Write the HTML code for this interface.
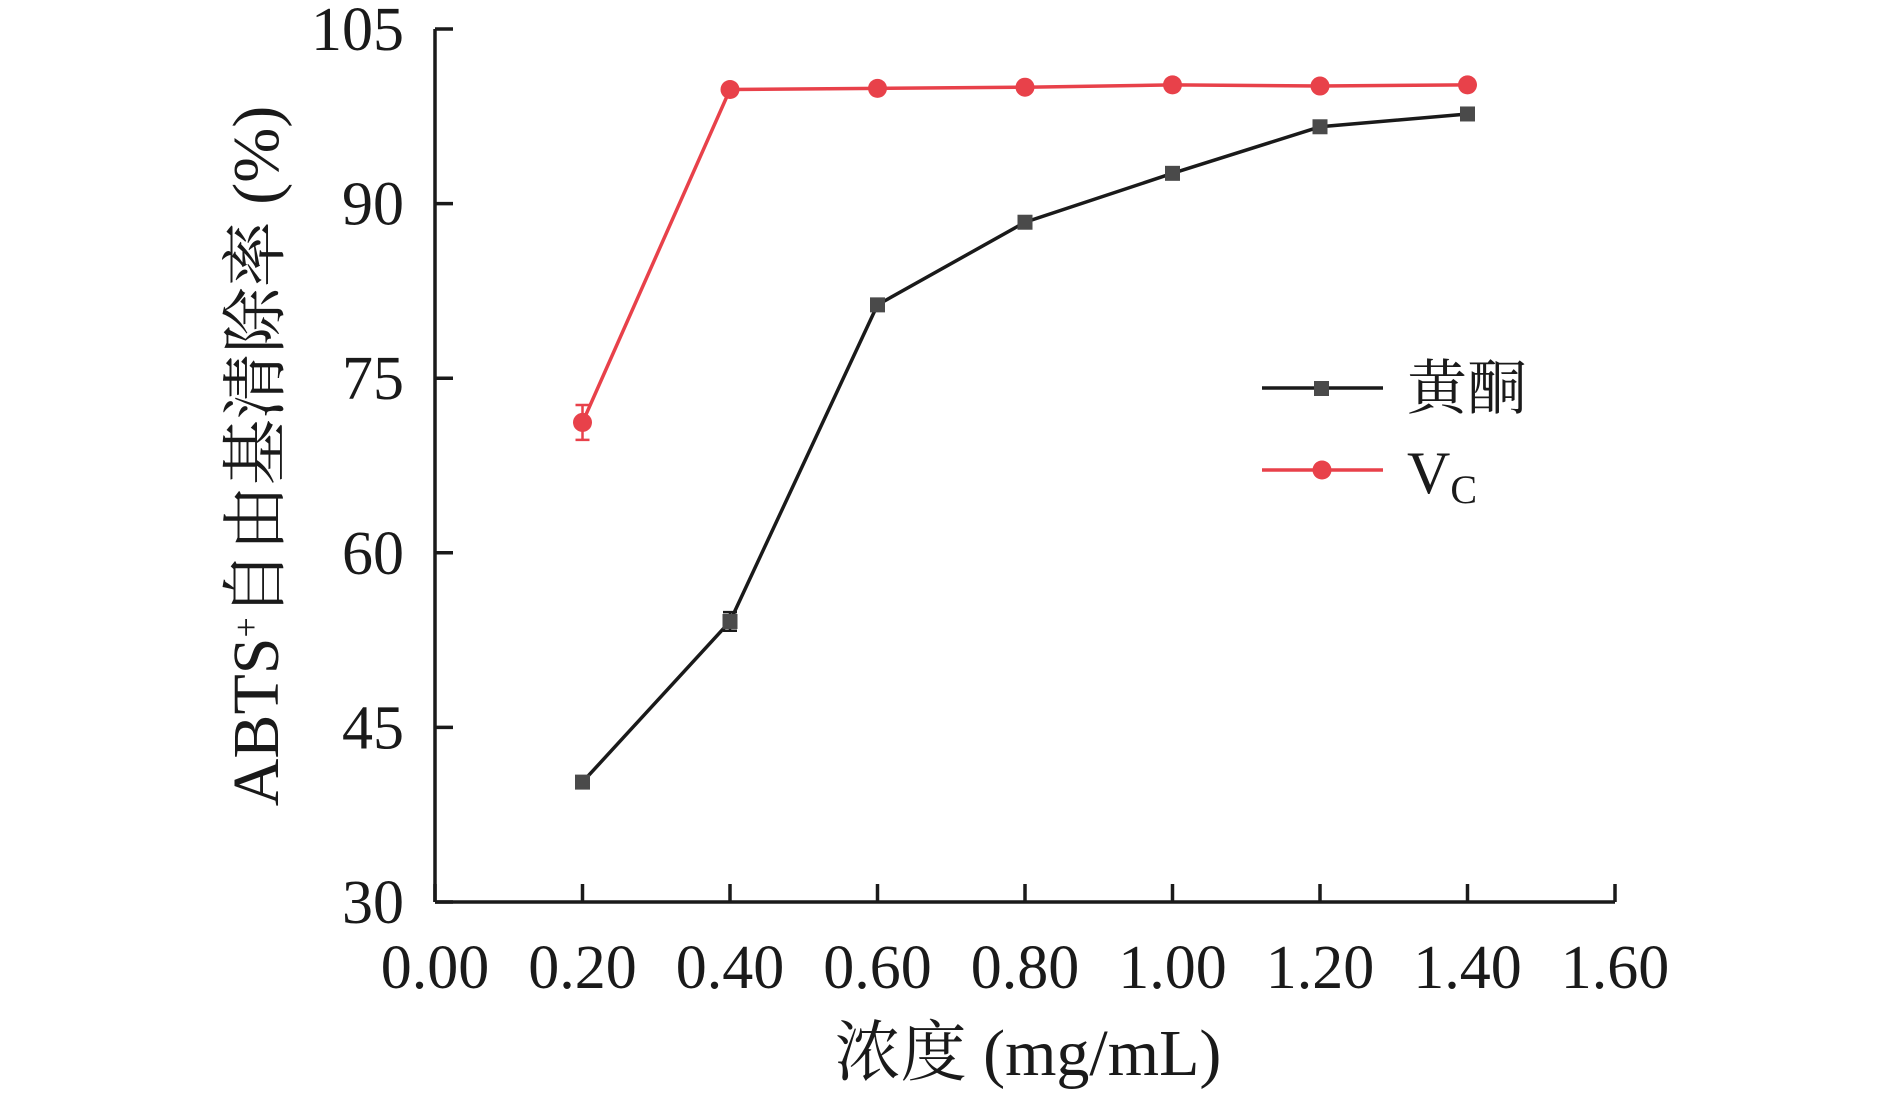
<!DOCTYPE html>
<html><head><meta charset="utf-8"><style>
html,body{margin:0;padding:0;background:#fff;}
svg text{font-family:"Liberation Serif","Noto Serif CJK SC",serif;fill:#1a1a1a;}
</style></head><body>
<svg id="chart" width="1890" height="1099" viewBox="0 0 1890 1099" xmlns="http://www.w3.org/2000/svg">
<g id="axes"></g>
<g id="series"></g>
<text transform="translate(278,456) rotate(-90)" text-anchor="middle" font-size="66">ABTS<tspan baseline-shift="super" font-size="36">+</tspan>自由基清除率 (%)</text>
<text x="1028" y="1075" text-anchor="middle" font-size="66">浓度 (mg/mL)</text>
<g>
<line x1="1262" y1="388" x2="1383" y2="388" stroke="#1a1a1a" stroke-width="3.5"/>
<rect x="1314" y="381" width="15" height="15" fill="#4a4a4a"/>
<text x="1407" y="409" font-size="60">黄酮</text>
<line x1="1262" y1="470" x2="1383" y2="470" stroke="#e8414a" stroke-width="3.5"/>
<circle cx="1322" cy="470" r="9.5" fill="#e8414a"/>
<text x="1407" y="493" font-size="60">V<tspan font-size="40" dy="10">C</tspan></text>
</g>
</svg>
<script>
const categories=[0.2,0.4,0.6,0.8,1.0,1.2,1.4];
const flavonoidValues=[40.3,54.1,81.3,88.4,92.6,96.6,97.7];
const flavonoidErrors=[0.4,0.8,0.4,0.3,0.4,0.3,0.3];
const vcValues=[71.2,99.8,99.9,100.0,100.2,100.1,100.2];
const vcErrors=[1.5,0.3,0.2,0.2,0.2,0.2,0.2];
const xTicks=["0.00","0.20","0.40","0.60","0.80","1.00","1.20","1.40","1.60"];
const yTicks=[30,45,60,75,90,105];
const NS="http://www.w3.org/2000/svg";
const X0=435,X1=1615,Y0=902,Y1=29;
function xs(v){return X0+(v-0)/(1.6)*(X1-X0);}
function ys(v){return Y0-(v-30)/(105-30)*(Y0-Y1);}
function mk(t,a,p){const e=document.createElementNS(NS,t);for(const k in a)e.setAttribute(k,a[k]);p.appendChild(e);return e;}
const ax=document.getElementById('axes');
let l=mk('line',{x1:X0,y1:Y0,x2:X1,y2:Y0,stroke:'#1a1a1a','stroke-width':3.5},ax);


l=mk('line',{x1:X0,y1:Y0,x2:X0,y2:Y1,stroke:'#1a1a1a','stroke-width':3.5},ax);


xTicks.forEach(t=>{const x=xs(parseFloat(t));
 const tk=mk('line',{x1:x,y1:Y0,x2:x,y2:Y0-18,stroke:'#1a1a1a','stroke-width':3.5},ax);
 
 
 const tx=mk('text',{x:x,y:988,'text-anchor':'middle','font-size':62},ax);tx.textContent=t;
 
 
});
yTicks.forEach(t=>{const y=ys(t);
 const tk=mk('line',{x1:X0,y1:y,x2:X0+18,y2:y,stroke:'#1a1a1a','stroke-width':3.5},ax);
 
 
 const tx=mk('text',{x:404,y:y+21,'text-anchor':'end','font-size':62},ax);tx.textContent=t;
 
 
});
const sg=document.getElementById('series');
function drawSeries(vals,errs,color,shape,name){
 const pts=categories.map((c,i)=>xs(c)+','+ys(vals[i])).join(' ');
 const pl=mk('polyline',{points:pts,fill:'none',stroke:color,'stroke-width':3.5},sg);
 
 
 categories.forEach((c,i)=>{const x=xs(c),y=ys(vals[i]),eh=ys(vals[i]-errs[i]),el=ys(vals[i]+errs[i]);
  const e=mk('path',{d:`M${x},${eh}V${el}M${x-7},${eh}H${x+7}M${x-7},${el}H${x+7}`,stroke:color,'stroke-width':2.5,fill:'none'},sg);
  
  
  let m;
  if(shape==='sq')m=mk('rect',{x:x-7.5,y:y-7.5,width:15,height:15,fill:'#4a4a4a'},sg);
  else m=mk('circle',{cx:x,cy:y,r:9.5,fill:color},sg);
  
  
 });
}
drawSeries(flavonoidValues,flavonoidErrors,'#1a1a1a','sq','flavonoid');
drawSeries(vcValues,vcErrors,'#e8414a','ci','vc');
</script>
</body></html>
